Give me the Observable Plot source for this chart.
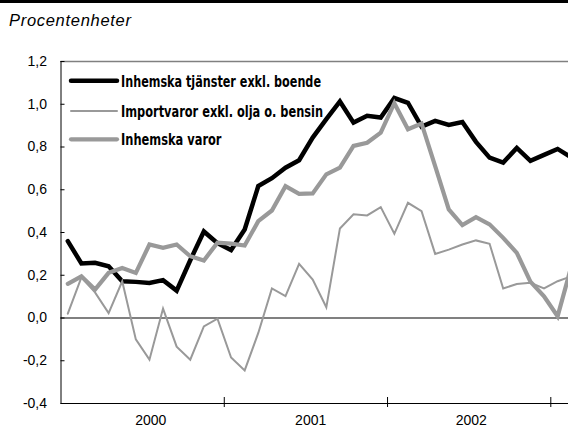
<!DOCTYPE html>
<html><head><meta charset="utf-8">
<script src="https://cdn.jsdelivr.net/npm/d3@7"></script>
<script src="https://cdn.jsdelivr.net/npm/@observablehq/plot@0.6"></script>
<style>
body{margin:0;background:#fff;width:568px;height:427px;overflow:hidden;position:relative;font-family:"Liberation Sans",Arial,sans-serif}
#bar{position:absolute;left:0;top:0;width:568px;height:3px;background:#000}
#title{position:absolute;left:9px;top:12px;font-style:italic;font-size:16.5px;letter-spacing:0.7px;line-height:17px;color:#000;white-space:nowrap}
#chart{position:absolute;left:0;top:40px}
</style></head>
<body>
<div id="bar"></div>
<div id="title">Procentenheter</div>
<div id="chart"></div>
<script>
const seriesNames = ["Inhemska tjänster exkl. boende", "Importvaror exkl. olja o. bensin", "Inhemska varor"];
const tjanster = [0.36,0.255,0.258,0.242,0.172,0.169,0.164,0.177,0.128,0.27,0.405,0.35,0.318,0.414,0.617,0.654,0.703,0.738,0.844,0.93,1.013,0.914,0.946,0.938,1.029,1.007,0.895,0.922,0.903,0.917,0.824,0.75,0.727,0.796,0.735,0.763,0.791,0.752];
const importvaror = [0.02,0.19,0.12,0.023,0.172,-0.1,-0.195,0.044,-0.134,-0.195,-0.039,-0.003,-0.185,-0.245,-0.07,0.138,0.102,0.253,0.18,0.05,0.419,0.485,0.48,0.519,0.394,0.539,0.5,0.3,0.32,0.344,0.363,0.347,0.138,0.159,0.165,0.138,0.172,0.195];
const varor = [0.16,0.195,0.133,0.211,0.234,0.211,0.344,0.328,0.344,0.289,0.269,0.352,0.348,0.339,0.453,0.503,0.617,0.581,0.583,0.672,0.703,0.805,0.82,0.867,1.005,0.883,0.91,0.71,0.508,0.435,0.472,0.438,0.375,0.305,0.17,0.102,0.008,0.24];
const yearLabels = ["2000", "2001", "2002"];
const yearLabelPos = [6.6, 18.35, 30.15];
const yearTicks = [12, 24, 36];
const yTicks = [-0.4, -0.2, 0, 0.2, 0.4, 0.6, 0.8, 1.0, 1.2];

const rows = vals => vals.map((v, i) => ({m: i + 0.5, v}));
const fmt = d => (Math.abs(d) < 1e-9 ? "0,0" : d.toFixed(1).replace(".", ","));

const styles = [
  {stroke: "#000", width: 4.5},
  {stroke: "#999", width: 2},
  {stroke: "#999", width: 4.2}
];
const data = [tjanster, importvaror, varor];

const plot = Plot.plot({
  width: 568, height: 387,
  marginTop: 21, marginBottom: 24, marginLeft: 60.5, marginRight: 0,
  x: {domain: [0, 37.3], label: null},
  y: {domain: [-0.4, 1.2], label: null},
  style: {fontFamily: "'Liberation Sans', Arial, sans-serif", fontSize: "14px", color: "#000", background: "transparent"},
  marks: [
    Plot.ruleY([1.2], {stroke: "#808080", strokeWidth: 1.6}),
    Plot.ruleY([0], {stroke: "#808080", strokeWidth: 2.2}),
    ...data.map((vals, k) => Plot.line(rows(vals), {
      x: "m", y: "v", stroke: styles[k].stroke, strokeWidth: styles[k].width,
      strokeLinejoin: "miter", strokeMiterlimit: 4, clip: true
    })),
    Plot.ruleX([0], {stroke: "#000", strokeWidth: 1}),
    Plot.ruleY([-0.4], {stroke: "#000", strokeWidth: 1}),
    Plot.axisY(yTicks, {label: null, tickSize: -4, tickPadding: 18, tickFormat: fmt, fontSize: 14, stroke: "#000"}),
    Plot.axisX(yearTicks, {label: null, tickSize: 4, tickFormat: () => "", stroke: "#000"}),
    Plot.axisX(yearTicks, {label: null, tickSize: -6, tickFormat: () => "", stroke: "#000"}),
    Plot.axisX(yearLabelPos, {label: null, tickSize: 0, tickPadding: 12, fontSize: 14, tickFormat: d => yearLabels[yearLabelPos.indexOf(d)]})
  ]
});
document.getElementById("chart").appendChild(plot);

// legend inside the plot area
const svg = d3.select(plot);
const lg = svg.append("g").attr("class", "legend");
const legendY = [40.7, 71, 99.3];
const legendTextWidth = [200, 202, 100.5];
seriesNames.forEach((name, k) => {
  lg.append("line")
    .attr("x1", 71).attr("x2", 117).attr("y1", legendY[k]).attr("y2", legendY[k])
    .attr("stroke", styles[k].stroke).attr("stroke-width", styles[k].width)
    .attr("stroke-linecap", "round");
  lg.append("text")
    .attr("x", 121).attr("y", legendY[k] + 6)
    .attr("text-anchor", "start")
    .attr("font-family", "'Liberation Sans Narrow', 'DejaVu Sans Condensed', 'Liberation Sans', sans-serif")
    .attr("font-weight", "bold").attr("font-size", 16)
    .attr("textLength", legendTextWidth[k]).attr("lengthAdjust", "spacingAndGlyphs")
    .attr("fill", "#000")
    .text(name);
});
</script>
</body></html>
